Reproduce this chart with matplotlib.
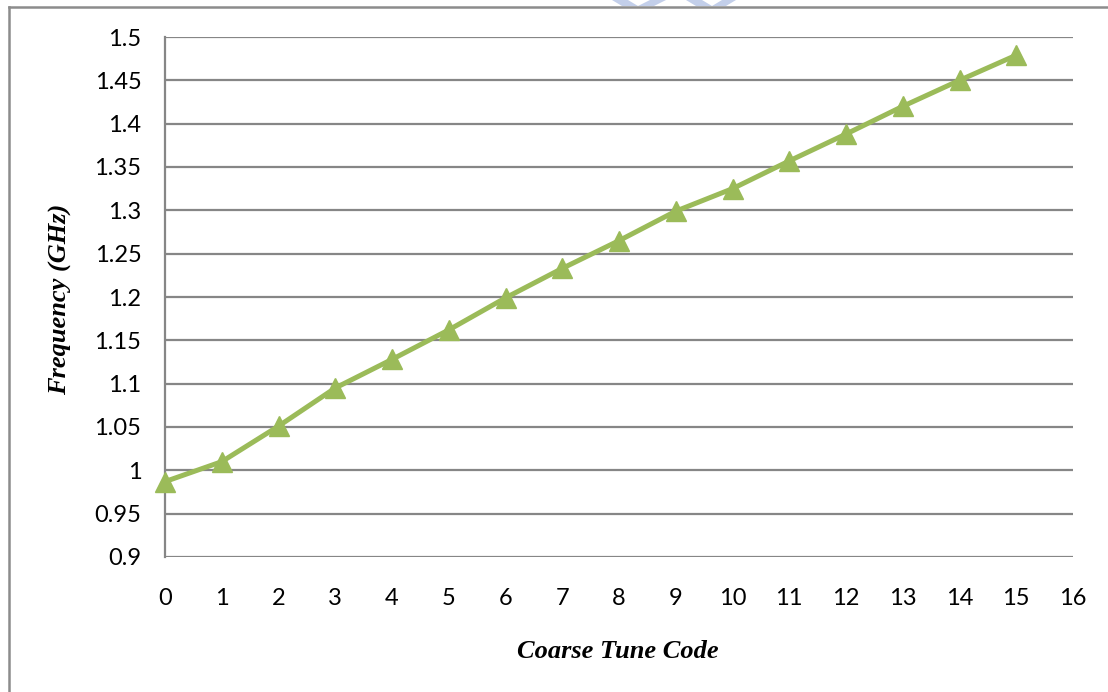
import matplotlib
matplotlib.use("Agg")
import matplotlib.pyplot as plt
from matplotlib.lines import Line2D
from matplotlib.patches import Polygon

# Coarse tune code vs. oscillation frequency
codes = list(range(16))
freq_ghz = [0.987, 1.010, 1.051, 1.095, 1.128, 1.162, 1.199, 1.233,
            1.265, 1.299, 1.325, 1.357, 1.388, 1.420, 1.450, 1.479]
x_ticks = list(range(17))
y_ticks = [0.9, 0.95, 1.0, 1.05, 1.1, 1.15, 1.2, 1.25, 1.3, 1.35, 1.4, 1.45, 1.5]
y_tick_labels = ["0.9", "0.95", "1", "1.05", "1.1", "1.15", "1.2", "1.25",
                 "1.3", "1.35", "1.4", "1.45", "1.5"]

W, H = 1108, 692
fig = plt.figure(figsize=(W / 100, H / 100), dpi=100)
fig.patch.set_facecolor("white")

ax = fig.add_axes([165 / W, 1 - 557 / H, (1073 - 165) / W, (557 - 37) / H])

grid_color = "#868686"
ax.set_xlim(0, 16)
ax.set_ylim(0.9, 1.5)
ax.set_yticks(y_ticks)
ax.set_yticklabels(y_tick_labels)
ax.set_xticks(x_ticks)
ax.set_xticklabels([str(t) for t in x_ticks])
ax.yaxis.grid(True, color=grid_color, linewidth=1.6)
ax.set_axisbelow(True)
for side in ("top", "right", "bottom"):
    ax.spines[side].set_visible(False)
ax.spines["left"].set_color(grid_color)
ax.spines["left"].set_linewidth(1.6)
ax.tick_params(axis="both", length=0, labelsize=17, colors="black")
ax.tick_params(axis="y", pad=17)
ax.tick_params(axis="x", pad=22)
for lab in ax.get_xticklabels() + ax.get_yticklabels():
    lab.set_fontfamily("Lato")

ax.plot(codes, freq_ghz, color="#9BBB59", linewidth=3.6, marker="^",
        markersize=14, markerfacecolor="#9BBB59", markeredgecolor="#9BBB59",
        clip_on=False, zorder=3)

label_font = dict(family="Liberation Serif", style="italic", weight="bold", size=19)
fig.text(618 / W, 1 - 651 / H, "Coarse Tune Code", ha="center", va="center", **label_font)
fig.text(60 / W, 1 - 299 / H, "Frequency (GHz)", ha="center", va="center",
         rotation=90, **label_font)

# Outer frame (left and top edges)
fig.add_artist(Line2D([9 / W, 9 / W], [0, 1 - 7 / H], color="#8c8c8c", linewidth=1.8,
                      transform=fig.transFigure))
fig.add_artist(Line2D([9 / W, 1], [1 - 7 / H, 1 - 7 / H], color="#8c8c8c", linewidth=1.8,
                      transform=fig.transFigure))

# Faint emblem fragments above the frame
wm = "#c3cfea"
for pts in ([(612, 0), (628, 0), (638, 6), (622, 6)],
            [(650, 0), (666, 0), (654, 6), (638, 6)],
            [(686, 0), (702, 0), (712, 6), (696, 6)],
            [(722, 0), (736, 0), (726, 6), (712, 6)]):
    fig.add_artist(Polygon([(x / W, 1 - y / H) for x, y in pts], closed=True,
                           facecolor=wm, edgecolor="none", transform=fig.transFigure))

fig.savefig("out.png", dpi=100, facecolor="white")
